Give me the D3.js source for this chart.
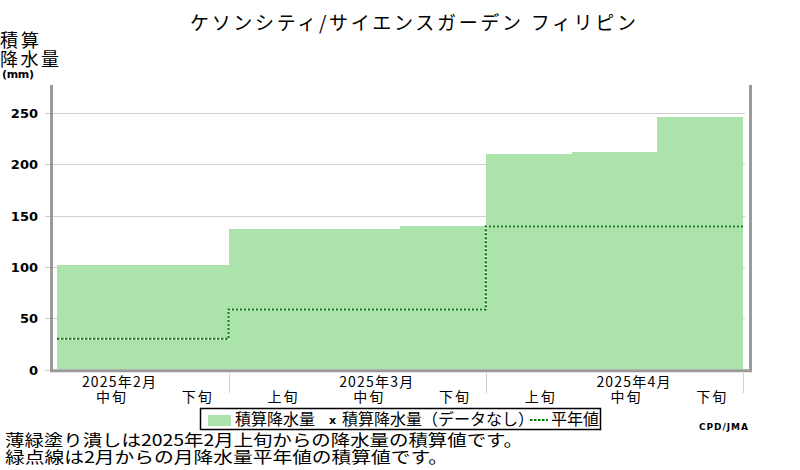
<!DOCTYPE html>
<html>
<head>
<meta charset="utf-8">
<script src="https://cdn.jsdelivr.net/npm/d3@7"></script>
<style>
  body { margin: 0; background: #fff; }
  text { font-family: "Noto Sans CJK JP", sans-serif; fill: #000; }
</style>
</head>
<body>
<div id="main"></div>
<script>
// dekads shown on the x axis (Feb mid .. Apr late)
const dekads = ['2月中旬', '2月下旬', '3月上旬', '3月中旬', '3月下旬', '4月上旬', '4月中旬', '4月下旬'];
const dekadLabels = ['中旬', '下旬', '上旬', '中旬', '下旬', '上旬', '中旬', '下旬'];
const monthLabels = ['2025年2月', '2025年3月', '2025年4月'];
const monthLabelAt = ['2月中旬', '3月中旬', '4月中旬'];
const monthEnds = ['2月下旬', '3月下旬', '4月下旬'];

// accumulated precipitation (mm) and accumulated monthly normal (mm)
const accumPrecip = [102, 102, 137, 137, 140, 210, 212, 246];
const normalAccum = [30, 30, 58.5, 58.5, 58.5, 139.5, 139.5, 139.5];

const yTicks = [0, 50, 100, 150, 200, 250];

const w = 800;
const h = 470;

const svg = d3.select('#main')
    .append('svg')
    .attr('width', w)
    .attr('height', h)

const x = d3.scaleBand()
    .domain(dekads)
    .range([57, 743])
    .padding(0)

const y = d3.scaleLinear()
    .domain([0, 277.5])
    .range([369.5, 85])

// title
svg.append('text')
    .attr('x', 190)
    .attr('y', 30)
    .attr('textLength', 446)
    .attr('lengthAdjust', 'spacing')
    .style('font-size', '19px')
    .text('ケソンシティ/サイエンスガーデン フィリピン')

// y title
svg.append('text').attr('x', 0).attr('y', 47).attr('textLength', 39).style('font-size', '18px').text('積算')
svg.append('text').attr('x', 0).attr('y', 66).attr('textLength', 59).style('font-size', '18px').text('降水量')
svg.append('text')
    .attr('x', 2).attr('y', 78)
    .attr('textLength', 32)
    .style('font-size', '11px')
    .style('font-weight', 'bold')
    .style('font-family', 'DejaVu Sans')
    .text('(mm)')

// grid lines
svg.append('g')
    .selectAll('line')
    .data(yTicks)
    .enter()
    .append('line')
    .attr('x1', 45)
    .attr('x2', 745)
    .attr('y1', d => Math.round(y(d)) + 0.5)
    .attr('y2', d => Math.round(y(d)) + 0.5)
    .attr('stroke', '#d0d0d0')
    .attr('stroke-width', 1)

svg.append('g')
    .selectAll('text')
    .data(yTicks)
    .enter()
    .append('text')
    .attr('x', 38)
    .attr('y', d => y(d) + 5)
    .attr('text-anchor', 'end')
    .style('font-family', 'DejaVu Sans')
    .style('font-weight', 'bold')
    .style('font-size', '13px')
    .text(d => d)

// accumulated precipitation as a step area
const pts = dekads.map((d, i) => [x(d), accumPrecip[i]])
pts.push([x(dekads[dekads.length - 1]) + x.bandwidth(), accumPrecip[accumPrecip.length - 1]])

const area = d3.area()
    .x(d => d[0])
    .y0(y(0) - 0.5)
    .y1(d => y(d[1]))
    .curve(d3.curveStepAfter)

svg.append('path')
    .attr('d', area(pts))
    .attr('fill', '#ace3ab')
    .attr('shape-rendering', 'crispEdges')

// normal, dotted step line
const npts = dekads.map((d, i) => [x(d), normalAccum[i]])
npts.push([x(dekads[dekads.length - 1]) + x.bandwidth(), normalAccum[normalAccum.length - 1]])

const line = d3.line()
    .x(d => d[0])
    .y(d => y(d[1]))
    .curve(d3.curveStepAfter)

svg.append('path')
    .attr('d', line(npts))
    .attr('fill', 'none')
    .attr('stroke', '#fff')
    .attr('stroke-width', 2)

svg.append('path')
    .attr('d', line(npts))
    .attr('fill', 'none')
    .attr('stroke', '#008000')
    .attr('stroke-width', 2)
    .attr('stroke-dasharray', '2.5,1.5')

// frame
const frame = svg.append('g')
    .attr('stroke', '#9a9a9a')
    .attr('stroke-width', 3)
frame.append('line').attr('x1', 51.5).attr('x2', 51.5).attr('y1', 85).attr('y2', 372)
frame.append('line').attr('x1', 750.5).attr('x2', 750.5).attr('y1', 85).attr('y2', 372)
frame.append('line').attr('x1', 50).attr('x2', 752).attr('y1', 370.8).attr('y2', 370.8)

// month separators
svg.append('g')
    .selectAll('line')
    .data(monthEnds)
    .enter()
    .append('line')
    .attr('x1', d => Math.round(x(d) + x.bandwidth()) + 0.5)
    .attr('x2', d => Math.round(x(d) + x.bandwidth()) + 0.5)
    .attr('y1', 373)
    .attr('y2', 393)
    .attr('stroke', '#d0d0d0')

// x labels
svg.append('g')
    .selectAll('text')
    .data(monthLabels)
    .enter()
    .append('text')
    .attr('x', (d, i) => x(monthLabelAt[i]) + x.bandwidth() / 2 + 19)
    .attr('y', 387)
    .attr('text-anchor', 'middle')
    .attr('textLength', 74)
    .style('font-size', '14px')
    .text(d => d)

svg.append('g')
    .selectAll('text')
    .data(dekads)
    .enter()
    .append('text')
    .attr('x', d => x(d) + x.bandwidth() / 2 + 11)
    .attr('y', 402)
    .attr('text-anchor', 'middle')
    .attr('textLength', 30)
    .style('font-size', '14px')
    .text((d, i) => dekadLabels[i])

// legend
const legend = svg.append('g')
legend.append('rect')
    .attr('x', 200.5).attr('y', 408.5)
    .attr('width', 400).attr('height', 21)
    .attr('fill', '#fff')
    .attr('stroke', '#000')
    .attr('stroke-width', 1.5)
legend.append('rect')
    .attr('x', 208).attr('y', 415)
    .attr('width', 23).attr('height', 11)
    .attr('fill', '#ace3ab')
legend.append('text').attr('x', 235).attr('y', 425).style('font-size', '16px').text('積算降水量')
legend.append('text')
    .attr('x', 329).attr('y', 424)
    .style('font-family', 'DejaVu Sans')
    .style('font-weight', 'bold')
    .style('font-size', '11px')
    .text('x')
legend.append('text').attr('x', 342).attr('y', 425).style('font-size', '16px').text('積算降水量（データなし）')
legend.append('line')
    .attr('x1', 530).attr('x2', 548)
    .attr('y1', 420).attr('y2', 420)
    .attr('stroke', '#008000')
    .attr('stroke-width', 2)
    .attr('stroke-dasharray', '2.5,1.5')
legend.append('text').attr('x', 551).attr('y', 425).style('font-size', '16px').text('平年値')

svg.append('text')
    .attr('x', 699).attr('y', 430)
    .attr('textLength', 49)
    .style('font-family', 'DejaVu Sans')
    .style('font-weight', 'bold')
    .style('font-size', '9px')
    .text('CPD/JMA')

// notes
svg.append('text')
    .attr('x', 5).attr('y', 446)
    .attr('textLength', 518)
    .attr('lengthAdjust', 'spacingAndGlyphs')
    .style('font-size', '16px')
    .text('薄緑塗り潰しは2025年2月上旬からの降水量の積算値です。')
svg.append('text')
    .attr('x', 5).attr('y', 463)
    .attr('textLength', 443)
    .attr('lengthAdjust', 'spacingAndGlyphs')
    .style('font-size', '16px')
    .text('緑点線は2月からの月降水量平年値の積算値です。')
</script>
</body>
</html>
